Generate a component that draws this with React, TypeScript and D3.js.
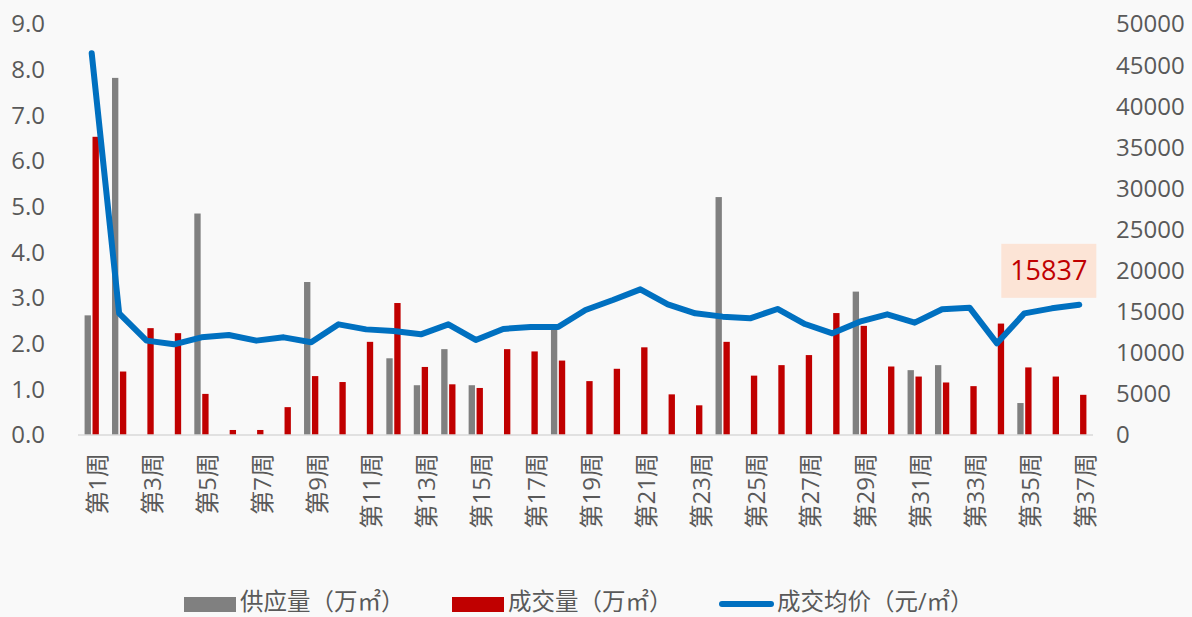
import React from "react";
import * as d3 from "d3";

// week labels
const weeks = [
  "第1周", "第2周", "第3周", "第4周", "第5周", "第6周", "第7周", "第8周", "第9周", "第10周",
  "第11周", "第12周", "第13周", "第14周", "第15周", "第16周", "第17周", "第18周", "第19周", "第20周",
  "第21周", "第22周", "第23周", "第24周", "第25周", "第26周", "第27周", "第28周", "第29周", "第30周",
  "第31周", "第32周", "第33周", "第34周", "第35周", "第36周", "第37周",
];

// 供应量 (万㎡)
const supply = [
  2.62, 7.82, 0, 0, 4.85, 0, 0, 0, 3.35, 0,
  0, 1.68, 1.09, 1.88, 1.09, 0, 0, 2.35, 0, 0,
  0, 0, 0, 5.21, 0, 0, 0, 0, 3.14, 0,
  1.42, 1.53, 0, 0, 0.7, 0, 0,
];

// 成交量 (万㎡)
const deal = [
  6.53, 1.39, 2.34, 2.23, 0.9, 0.11, 0.11, 0.61, 1.29, 1.16,
  2.04, 2.89, 1.49, 1.11, 1.03, 1.88, 1.83, 1.63, 1.18, 1.45,
  1.92, 0.89, 0.65, 2.04, 1.3, 1.53, 1.75, 2.67, 2.39, 1.5,
  1.28, 1.15, 1.07, 2.44, 1.48, 1.28, 0.88,
];

// 成交均价 (元/㎡)
const price = [
  46430, 14800, 11480, 11030, 11880, 12160, 11480, 11880, 11280, 13460,
  12850, 12650, 12250, 13460, 11560, 12900, 13140, 13140, 15210, 16420,
  17720, 15900, 14800, 14400, 14190, 15330, 13500, 12370, 13790, 14680,
  13670, 15290, 15490, 11150, 14800, 15410, 15837,
];

const leftTicks = [0, 1, 2, 3, 4, 5, 6, 7, 8, 9];
const rightTicks = [0, 5000, 10000, 15000, 20000, 25000, 30000, 35000, 40000, 45000, 50000];

const seriesNames = ["供应量（万㎡）", "成交量（万㎡）", "成交均价（元/㎡）"];
const lastLabel = "15837";

export default function App() {
  const W = 1192;
  const H = 617;
  const left = 78;
  const right = 1093;
  const top = 24;
  const bottom = 435;
  const font = "'Open Sans', 'Noto Sans CJK SC', sans-serif";
  const textColor = "#595959";

  const x = d3.scaleBand<string>().domain(weeks).range([left, right]).padding(0);
  const inner = d3
    .scaleBand<string>()
    .domain(["supply", "deal"])
    .range([0, x.bandwidth()])
    .paddingInner(0.2)
    .paddingOuter(0.83);
  const yL = d3.scaleLinear().domain([0, 9]).range([bottom, top]);
  const yR = d3.scaleLinear().domain([0, 50000]).range([bottom, top]);

  const line = d3
    .line<number>()
    .x((_, i) => (x(weeks[i]) as number) + x.bandwidth() / 2)
    .y((d) => yR(d));

  const lastX = (x(weeks[weeks.length - 1]) as number) + x.bandwidth() / 2;
  const lastY = yR(price[price.length - 1]);

  // legend baseline
  const legY = 610;

  return (
    <div style={{ position: "absolute", left: 0, top: 0 }}>
      <svg width={W} height={H} style={{ display: "block", background: "#f9f9f9" }} fontFamily={font}>
        {/* left axis labels */}
        {leftTicks.map((t) => (
          <text key={"l" + t} x={45} y={yL(t)} dy="0.35em" textAnchor="end" fontSize={24} fill={textColor}>
            {d3.format(".1f")(t)}
          </text>
        ))}
        {/* right axis labels */}
        {rightTicks.map((t) => (
          <text key={"r" + t} x={1116} y={yR(t)} dy="0.35em" textAnchor="start" fontSize={24} fill={textColor}>
            {t}
          </text>
        ))}

        {/* bars */}
        {supply.map((v, i) =>
          v > 0 ? (
            <rect
              key={"s" + i}
              x={(x(weeks[i]) as number) + (inner("supply") as number)}
              y={yL(v)}
              width={inner.bandwidth()}
              height={yL(0) - yL(v)}
              fill="#808080"
            />
          ) : null
        )}
        {deal.map((v, i) => (
          <rect
            key={"d" + i}
            x={(x(weeks[i]) as number) + (inner("deal") as number)}
            y={yL(v)}
            width={inner.bandwidth()}
            height={yL(0) - yL(v)}
            fill="#c00000"
          />
        ))}

        {/* baseline */}
        <line x1={left} x2={right} y1={bottom} y2={bottom} stroke="#d9d9d9" strokeWidth={1.5} />

        {/* price line */}
        <path
          d={line(price) || ""}
          fill="none"
          stroke="#0070c0"
          strokeWidth={6}
          strokeLinejoin="round"
          strokeLinecap="round"
        />

        {/* last value callout */}
        <rect x={lastX - 78} y={lastY - 61} width={95} height={54} fill="#fce4d6" />
        <text x={lastX - 30.5} y={lastY - 34} dy="0.35em" textAnchor="middle" fontSize={27} fill="#c00000">
          {lastLabel}
        </text>

        {/* x labels, every other week */}
        {weeks.map((w, i) =>
          i % 2 === 0 ? (
            <text
              key={"x" + i}
              transform={`translate(${(x(w) as number) + x.bandwidth() / 2 + 6},453) rotate(-90)`}
              dy="0.35em"
              textAnchor="end"
              fontSize={24}
              fill={textColor}
            >
              {w}
            </text>
          ) : null
        )}

        {/* legend */}
        <rect x={184} y={597} width={52} height={15} fill="#808080" />
        <text x={240} y={legY} fontSize={23.5} fill={textColor}>
          {seriesNames[0]}
        </text>
        <rect x={452} y={597} width={52} height={15} fill="#c00000" />
        <text x={508} y={legY} fontSize={23.5} fill={textColor}>
          {seriesNames[1]}
        </text>
        <line x1={722} x2={771} y1={604} y2={604} stroke="#0070c0" strokeWidth={6} strokeLinecap="round" />
        <text x={777} y={legY} fontSize={23.5} fill={textColor}>
          {seriesNames[2]}
        </text>
      </svg>
    </div>
  );
}
